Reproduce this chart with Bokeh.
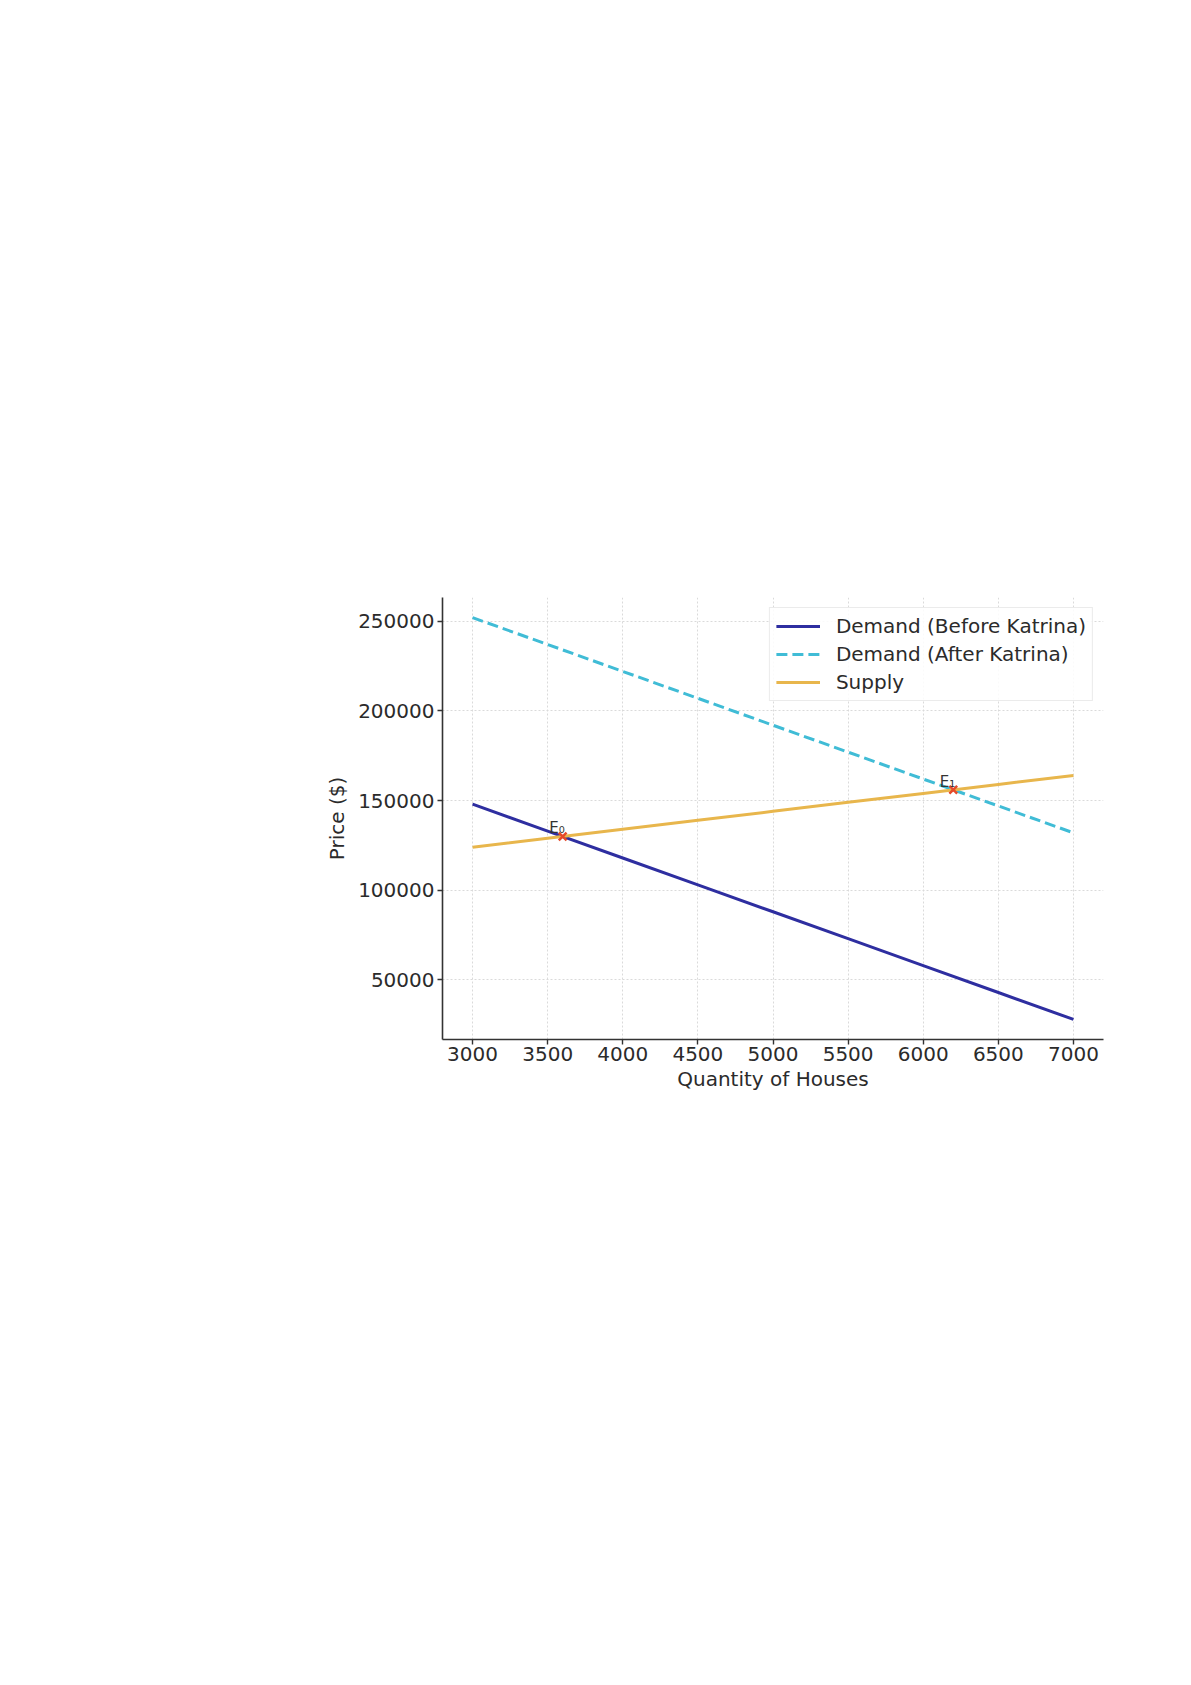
from bokeh.plotting import figure
from bokeh.models import Range1d, FixedTicker, BasicTickFormatter, Legend, LegendItem, ColumnDataSource
from bokeh.core.properties import value
from bokeh.embed import file_html
from bokeh.resources import INLINE

# ---- data ----
quantity = [3000, 3500, 4000, 4500, 5000, 5500, 6000, 6500, 7000]
demand_before = [148000, 133000, 118000, 103000, 88000, 73000, 58000, 43000, 28000]
demand_after = [252000, 237000, 222000, 207000, 192000, 177000, 162000, 147000, 132000]
supply = [124000, 129000, 134000, 139000, 144000, 149000, 154000, 159000, 164000]
eq_quantity = [3600, 6200]
eq_price = [130000, 156000]
eq_labels = ["E\u2080", "E\u2081"]
x_ticks = [3000, 3500, 4000, 4500, 5000, 5500, 6000, 6500, 7000]
y_ticks = [50000, 100000, 150000, 200000, 250000]
series_names = ["Demand (Before Katrina)", "Demand (After Katrina)", "Supply"]

FONT = "DejaVu Sans"
W, H = 1175, 1130

p = figure(width=W, height=H, output_backend="svg", toolbar_location=None,
           x_range=Range1d(2800, 7200), y_range=Range1d(16800, 263200),
           min_border_left=442, min_border_right=W - 1103, min_border_top=597,
           min_border_bottom=H - 1039)
p.outline_line_color = None
p.background_fill_color = "white"
p.border_fill_color = "white"

for ax in (p.xaxis[0], p.yaxis[0]):
    ax.axis_line_color = "#333333"
    ax.axis_line_width = 1.6
    ax.major_tick_line_color = "#333333"
    ax.major_tick_line_width = 1.4
    ax.major_tick_out = 5
    ax.major_tick_in = 0
    ax.minor_tick_line_color = None
    ax.major_label_text_font = FONT
    ax.major_label_text_font_size = "20px"
    ax.major_label_text_color = "#2b2b2b"
    ax.axis_label_text_font = FONT
    ax.axis_label_text_font_size = "20px"
    ax.axis_label_text_font_style = "normal"
    ax.axis_label_text_color = "#2b2b2b"
    ax.formatter = BasicTickFormatter(use_scientific=False)

p.xaxis[0].ticker = FixedTicker(ticks=x_ticks)
p.yaxis[0].ticker = FixedTicker(ticks=y_ticks)
p.xaxis[0].major_label_standoff = 2
p.yaxis[0].major_label_standoff = 3
p.xaxis[0].axis_label = "Quantity of Houses"
p.yaxis[0].axis_label = "Price ($)"
p.xaxis[0].axis_label_standoff = 3
p.yaxis[0].axis_label_standoff = 6

for g in (p.xgrid[0], p.ygrid[0]):
    g.grid_line_color = "#dadada"
    g.grid_line_dash = "2 2"
    g.grid_line_width = 1

src = ColumnDataSource(dict(q=quantity, d0=demand_before, d1=demand_after, s=supply))
r0 = p.line("q", "d0", source=src, line_color="#2e2ea0", line_width=3)
r1 = p.line("q", "d1", source=src, line_color="#40bcd6", line_width=3, line_dash="11 5")
r2 = p.line("q", "s", source=src, line_color="#e8b64c", line_width=3)

eq = ColumnDataSource(dict(x=eq_quantity, y=eq_price, t=eq_labels))
p.scatter("x", "y", source=eq, marker="x", size=11, line_color="#e64a2a", line_width=2.5)
p.text("x", "y", text="t", source=eq, text_align="right", text_baseline="bottom",
       text_font=value(FONT), text_font_size="15px", text_color="#333333",
       x_offset=2, y_offset=1)

legend = Legend(items=[LegendItem(label=series_names[0], renderers=[r0]),
                       LegendItem(label=series_names[1], renderers=[r1]),
                       LegendItem(label=series_names[2], renderers=[r2])],
                location="top_right")
legend.label_text_font = FONT
legend.label_text_font_size = "20px"
legend.label_text_color = "#2b2b2b"
legend.glyph_width = 44
legend.glyph_height = 20
legend.label_height = 20
legend.label_standoff = 16
legend.spacing = 4
legend.padding = 6
legend.margin = 10
legend.border_line_color = "#d8d8d8"
legend.border_line_width = 1
legend.background_fill_color = "white"
legend.background_fill_alpha = 0.85
p.add_layout(legend)

open("out.html", "w").write(file_html(p, INLINE))
